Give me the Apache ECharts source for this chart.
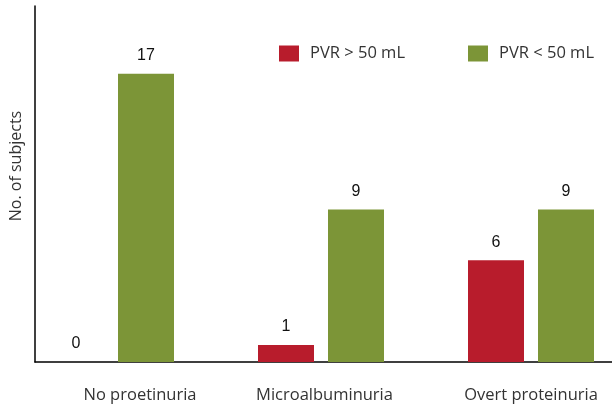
<!DOCTYPE html>
<html>
<head>
<meta charset="utf-8">
<script src="https://cdn.jsdelivr.net/npm/echarts@6/dist/echarts.min.js"></script>
<style>
  html, body { margin: 0; padding: 0; background: #fff; }
  #main { width: 612px; height: 404px; }
</style>
</head>
<body>
<div id="main"></div>
<script>
// data
const categories = ['No proetinuria', 'Microalbuminuria', 'Overt proteinuria'];
const seriesNames = ['PVR > 50 mL', 'PVR < 50 mL'];
const pvrHigh = [0, 1, 6];
const pvrLow = [17, 9, 9];

const RED = '#B81C2C';
const GREEN = '#7C9537';
const TXT = '#333333';

// the first category label sits to the right of its bars in the original
const labelShift = [58, 7, 0];

const chart = echarts.init(document.getElementById('main'), null, { renderer: 'canvas' });

const option = {
  animation: false,
  backgroundColor: '#ffffff',
  legend: {
    left: 274,
    top: 40,
    itemWidth: 20,
    itemHeight: 16,
    itemGap: 63,
    icon: 'rect',
    textStyle: { fontFamily: 'Open Sans', fontSize: 16.5, color: TXT, padding: [0, 0, 0, 6] },
    data: seriesNames
  },
  grid: [
    // bars grid, wider than the canvas so the groups sit where they do in the picture
    { left: 6, right: -24, top: 6, bottom: 42, containLabel: false, outerBoundsMode: 'none' },
    // axis frame grid
    { left: 35, right: 0, top: 6, bottom: 42, containLabel: false, outerBoundsMode: 'none' }
  ],
  xAxis: [
    {
      type: 'category',
      gridIndex: 0,
      data: categories.map((c, i) => ({ value: c, textStyle: { padding: [0, 0, 0, labelShift[i]] } })),
      axisLine: { show: false },
      axisTick: { show: false },
      axisLabel: { fontFamily: 'Open Sans', fontSize: 16.5, color: TXT, margin: 25 }
    },
    {
      type: 'value',
      gridIndex: 1,
      min: 0, max: 1,
      axisLine: { show: true, onZero: false, lineStyle: { color: '#000', width: 1.5 } },
      axisTick: { show: false },
      axisLabel: { show: false },
      splitLine: { show: false }
    }
  ],
  yAxis: [
    {
      type: 'value',
      gridIndex: 0,
      min: 0, max: 21,
      show: false
    },
    {
      type: 'value',
      gridIndex: 1,
      min: 0, max: 21,
      name: 'No. of subjects',
      nameLocation: 'middle',
      nameGap: 11,
      nameTextStyle: { fontFamily: 'Open Sans', fontSize: 16, color: TXT, padding: [0, 0, 0, 36] },
      axisLine: { show: true, onZero: false, lineStyle: { color: '#000', width: 1.5 } },
      axisTick: { show: false },
      axisLabel: { show: false },
      splitLine: { show: false }
    }
  ],
  series: [
    {
      name: seriesNames[0],
      type: 'bar',
      xAxisIndex: 0, yAxisIndex: 0,
      barWidth: 56,
      barGap: '25%',
      itemStyle: { color: RED },
      label: { show: true, position: 'top', distance: 10, fontFamily: 'Liberation Sans', fontSize: 16, color: '#111' },
      data: pvrHigh
    },
    {
      name: seriesNames[1],
      type: 'bar',
      xAxisIndex: 0, yAxisIndex: 0,
      barWidth: 56,
      barGap: '25%',
      itemStyle: { color: GREEN },
      label: { show: true, position: 'top', distance: 10, fontFamily: 'Liberation Sans', fontSize: 16, color: '#111' },
      data: pvrLow
    }
  ]
};

chart.setOption(option);
</script>
</body>
</html>
